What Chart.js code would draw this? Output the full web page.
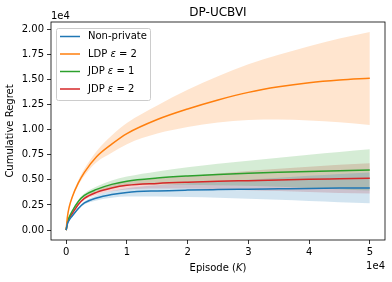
<!DOCTYPE html>
<html>
<head>
<meta charset="utf-8">
<script src="https://cdn.jsdelivr.net/npm/chart.js@4.4.1/dist/chart.umd.min.js"></script>
<style>
  html, body { margin: 0; padding: 0; background: #fff; }
  #wrap { width: 392px; height: 282px; }
</style>
</head>
<body>
<div id="wrap"><canvas id="chart" width="392" height="282"></canvas></div>
<script>
// episodes (K)
const episodes = [0, 200, 500, 1000, 2000, 3000, 5000, 7500, 10000, 15000, 20000, 25000, 30000, 35000, 40000, 45000, 50000];

// Non-private
const nonPrivMean = [0, 600, 1000, 1400, 2150, 2700, 3200, 3550, 3750, 3900, 3980, 4030, 4070, 4110, 4150, 4180, 4200];
const nonPrivLow  = [0, 560, 940, 1320, 2030, 2550, 2950, 3220, 3330, 3350, 3300, 3230, 3120, 3010, 2900, 2780, 2670];
const nonPrivHigh = [0, 640, 1060, 1480, 2270, 2850, 3450, 3880, 4170, 4450, 4660, 4830, 5020, 5210, 5400, 5580, 5730];

// LDP eps = 2
const ldpMean = [0, 1300, 2300, 3300, 4700, 5750, 7300, 8550, 9600, 11000, 12050, 12950, 13700, 14250, 14650, 14920, 15100];
const ldpLow  = [0, 1250, 2200, 3150, 4450, 5400, 6750, 7700, 8550, 9600, 10250, 10700, 10950, 11000, 10900, 10720, 10450];
const ldpHigh = [0, 1350, 2400, 3450, 4950, 6100, 7850, 9400, 10650, 12400, 13950, 15300, 16500, 17450, 18300, 19050, 19700];

// JDP eps = 1
const jdp1Mean = [0, 800, 1300, 1900, 2850, 3450, 4050, 4550, 4870, 5180, 5380, 5530, 5650, 5750, 5840, 5910, 5980];
const jdp1Low  = [0, 750, 1230, 1800, 2700, 3270, 3770, 4170, 4420, 4530, 4500, 4450, 4400, 4300, 4190, 4060, 3930];
const jdp1High = [0, 850, 1370, 2000, 3000, 3630, 4330, 4930, 5320, 5830, 6260, 6610, 6900, 7200, 7490, 7760, 8030];

// JDP eps = 2
const jdp2Mean = [0, 700, 1150, 1650, 2550, 3150, 3750, 4180, 4450, 4640, 4760, 4850, 4920, 4990, 5050, 5100, 5150];
const jdp2Low  = [0, 660, 1090, 1570, 2430, 3000, 3500, 3860, 4050, 4140, 4140, 4070, 3970, 3890, 3800, 3700, 3650];
const jdp2High = [0, 740, 1210, 1730, 2670, 3300, 4000, 4500, 4850, 5140, 5380, 5630, 5870, 6090, 6300, 6500, 6650];

const seriesNames = ['Non-private', 'LDP ε = 2', 'JDP ε = 1', 'JDP ε = 2'];
const seriesColors = ['#1f77b4', '#ff7f0e', '#2ca02c', '#d62728'];
const bandColors = ['rgba(31,119,180,0.2)', 'rgba(255,127,14,0.2)', 'rgba(44,160,44,0.2)', 'rgba(214,39,40,0.2)'];

const xTicks = [0, 10000, 20000, 30000, 40000, 50000];
const yTicks = [0, 2500, 5000, 7500, 10000, 12500, 15000, 17500, 20000];

const FONT = "'DejaVu Sans', sans-serif";

function pts(ys) {
    return episodes.map((x, i) => ({ x: x, y: ys[i] }));
}

const groups = [
    [nonPrivMean, nonPrivLow, nonPrivHigh],
    [ldpMean, ldpLow, ldpHigh],
    [jdp1Mean, jdp1Low, jdp1High],
    [jdp2Mean, jdp2Low, jdp2High]
];

const datasets = [];
groups.forEach((g, i) => {
    const lowIndex = datasets.length;
    datasets.push({
        label: 'low' + i, data: pts(g[1]), borderWidth: 0, pointRadius: 0,
        borderColor: 'transparent', fill: false, order: 2
    });
    datasets.push({
        label: 'high' + i, data: pts(g[2]), borderWidth: 0, pointRadius: 0,
        borderColor: 'transparent', backgroundColor: bandColors[i],
        fill: { target: lowIndex }, order: 2
    });
});
groups.forEach((g, i) => {
    datasets.push({
        label: seriesNames[i], data: pts(g[0]), borderColor: seriesColors[i],
        borderWidth: 1.5, pointRadius: 0, fill: false, order: 1
    });
});

// draws the frame, title, offset labels, x title and legend the matplotlib way
const decor = {
    id: 'decor',
    afterDraw(chart) {
        const ctx = chart.ctx;
        const a = chart.chartArea;
        ctx.save();
        ctx.strokeStyle = '#000';
        ctx.lineWidth = 0.8;
        ctx.strokeRect(a.left, a.top, a.right - a.left, a.bottom - a.top);

        ctx.fillStyle = '#000';
        ctx.font = '12px ' + FONT;
        ctx.textAlign = 'center';
        ctx.textBaseline = 'alphabetic';
        ctx.fillText('DP-UCBVI', (a.left + a.right) / 2, a.top - 6);

        ctx.font = '10px ' + FONT;
        ctx.textAlign = 'left';
        ctx.fillText('1e4', a.left, a.top - 3);
        ctx.textAlign = 'right';
        ctx.textBaseline = 'middle';
        ctx.fillText('1e4', a.right, 266);

        // x axis title with italic K
        const parts = [['Episode (', ''], ['K', 'italic '], [')', '']];
        let w = 0;
        parts.forEach(p => { ctx.font = p[1] + '10px ' + FONT; w += ctx.measureText(p[0]).width; });
        let x = (a.left + a.right) / 2 - w / 2;
        ctx.textAlign = 'left';
        ctx.textBaseline = 'middle';
        parts.forEach(p => {
            ctx.font = p[1] + '10px ' + FONT;
            ctx.fillText(p[0], x, 268);
            x += ctx.measureText(p[0]).width;
        });

        // legend
        const bx = a.left + 5, by = a.top + 6, bw = 94, bh = 72;
        ctx.fillStyle = 'rgba(255,255,255,0.8)';
        ctx.strokeStyle = '#cccccc';
        ctx.lineWidth = 1;
        ctx.beginPath();
        ctx.roundRect(bx + 0.5, by + 0.5, bw, bh, 2);
        ctx.fill();
        ctx.stroke();
        seriesNames.forEach((name, i) => {
            const y = by + 8.5 + i * 17.5;
            ctx.strokeStyle = seriesColors[i];
            ctx.lineWidth = 1.5;
            ctx.beginPath();
            ctx.moveTo(bx + 4, y);
            ctx.lineTo(bx + 24, y);
            ctx.stroke();
            ctx.fillStyle = '#000';
            let tx = bx + 32;
            name.split(/(ε)/).forEach(s => {
                if (!s) return;
                ctx.font = (s === 'ε' ? 'italic ' : '') + '10px ' + FONT;
                ctx.fillText(s, tx, y);
                tx += ctx.measureText(s).width;
            });
        });
        ctx.restore();
    }
};

new Chart(document.getElementById('chart').getContext('2d'), {
    type: 'line',
    data: { datasets: datasets },
    options: {
        responsive: false,
        animation: false,
        events: [],
        elements: { line: { cubicInterpolationMode: 'monotone' } },
        layout: { padding: { top: 22, right: 7, left: 0, bottom: 0 } },
        plugins: {
            legend: { display: false },
            title: { display: false },
            tooltip: { enabled: false },
            filler: { propagate: false }
        },
        scales: {
            x: {
                type: 'linear',
                min: -2500,
                max: 52500,
                afterBuildTicks: s => { s.ticks = xTicks.map(v => ({ value: v })); },
                afterFit: s => { s.height = 42; },
                grid: { drawOnChartArea: false, tickLength: 4, color: '#000', tickWidth: 0.8 },
                border: { display: false },
                ticks: {
                    color: '#000', padding: 2, maxRotation: 0,
                    font: { family: FONT, size: 10 },
                    callback: v => (v / 10000).toString()
                }
            },
            y: {
                type: 'linear',
                min: -985,
                max: 20700,
                afterBuildTicks: s => { s.ticks = yTicks.map(v => ({ value: v })); },
                afterFit: s => { s.width = 51; },
                grid: { drawOnChartArea: false, tickLength: 4, color: '#000', tickWidth: 0.8 },
                border: { display: false },
                title: {
                    display: true, text: 'Cumulative Regret', color: '#000',
                    font: { family: FONT, size: 10 }, padding: { top: 4, bottom: 0 }
                },
                ticks: {
                    color: '#000', padding: 3,
                    font: { family: FONT, size: 10 },
                    callback: v => (v / 10000).toFixed(2)
                }
            }
        }
    },
    plugins: [decor]
});
</script>
</body>
</html>
